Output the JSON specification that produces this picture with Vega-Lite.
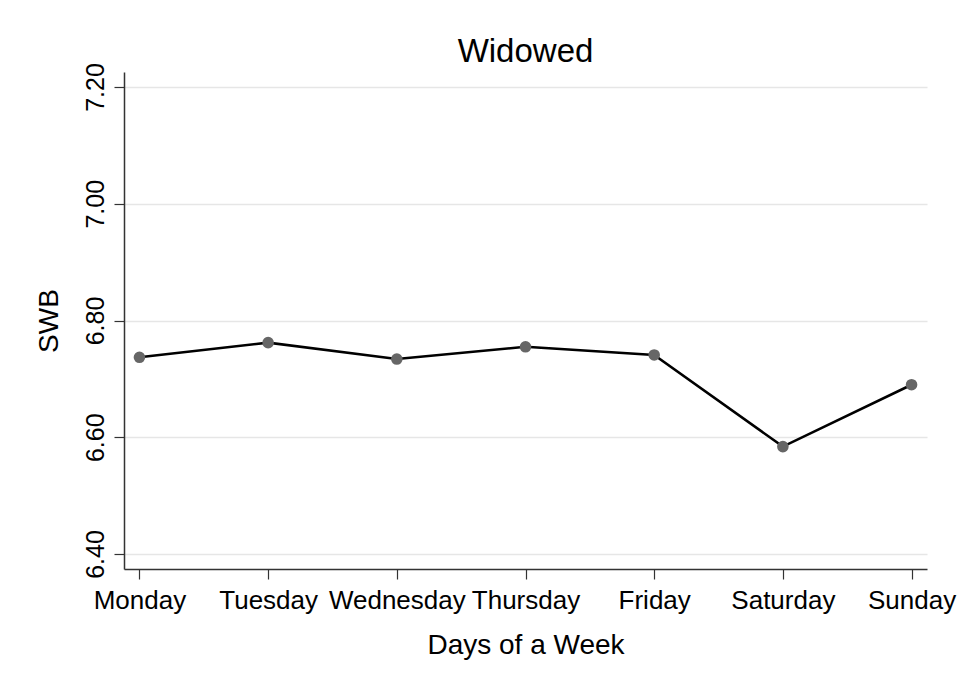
{
  "$schema": "https://vega.github.io/schema/vega-lite/v6.json",
  "width": 803,
  "height": 497,
  "autosize": {"type": "none"},
  "padding": {"left": 124, "top": 72, "right": 36, "bottom": 117},
  "background": "white",
  "config": {
    "view": {"stroke": null},
    "font": "Liberation Sans"
  },
  "title": {
    "text": "Widowed",
    "fontSize": 33,
    "fontWeight": "normal",
    "color": "black",
    "anchor": "middle",
    "baseline": "alphabetic",
    "offset": 11,
    "dy": 43
  },
  "data": {
    "values": [
      {"day": "Monday", "swb": 6.737},
      {"day": "Tuesday", "swb": 6.762},
      {"day": "Wednesday", "swb": 6.734},
      {"day": "Thursday", "swb": 6.755},
      {"day": "Friday", "swb": 6.741},
      {"day": "Saturday", "swb": 6.584},
      {"day": "Sunday", "swb": 6.690}
    ]
  },
  "encoding": {
    "x": {
      "field": "day",
      "type": "ordinal",
      "sort": null,
      "scale": {"type": "point", "padding": 0.12},
      "axis": {
        "title": "Days of a Week",
        "titleFontSize": 28,
        "titleFontWeight": "normal",
        "titleColor": "black",
        "titleBaseline": "alphabetic",
        "titleY": 84,
        "labelAngle": 0,
        "labelFontSize": 26,
        "labelColor": "black",
        "labelPadding": 8,
        "labelBaseline": "top",
        "labelOverlap": false,
        "tickSize": 10,
        "tickColor": "#333333",
        "domainColor": "#333333",
        "domainWidth": 1.5,
        "tickWidth": 1.2,
        "grid": false
      }
    },
    "y": {
      "field": "swb",
      "type": "quantitative",
      "scale": {"domain": [6.3743, 7.2257], "nice": false, "zero": false},
      "axis": {
        "title": "SWB",
        "titleFontSize": 28,
        "titleFontWeight": "normal",
        "titleColor": "black",
        "titleAngle": -90,
        "titleAlign": "center",
        "titleBaseline": "alphabetic",
        "titleX": -67,
        "titleY": 248.5,
        "values": [6.4, 6.6, 6.8, 7.0, 7.2],
        "format": ".2f",
        "labelAngle": -90,
        "labelAlign": "center",
        "labelBaseline": "alphabetic",
        "labelFontSize": 25,
        "labelColor": "black",
        "labelPadding": 11,
        "tickSize": 10,
        "tickColor": "#333333",
        "tickWidth": 1.2,
        "domainColor": "#333333",
        "domainWidth": 1.5,
        "grid": true,
        "gridColor": "#e6e6e6",
        "gridWidth": 1.5
      }
    }
  },
  "layer": [
    {"mark": {"type": "line", "color": "black", "strokeWidth": 2.6}},
    {"mark": {"type": "point", "filled": true, "color": "#666666", "opacity": 1, "size": 135}}
  ]
}
